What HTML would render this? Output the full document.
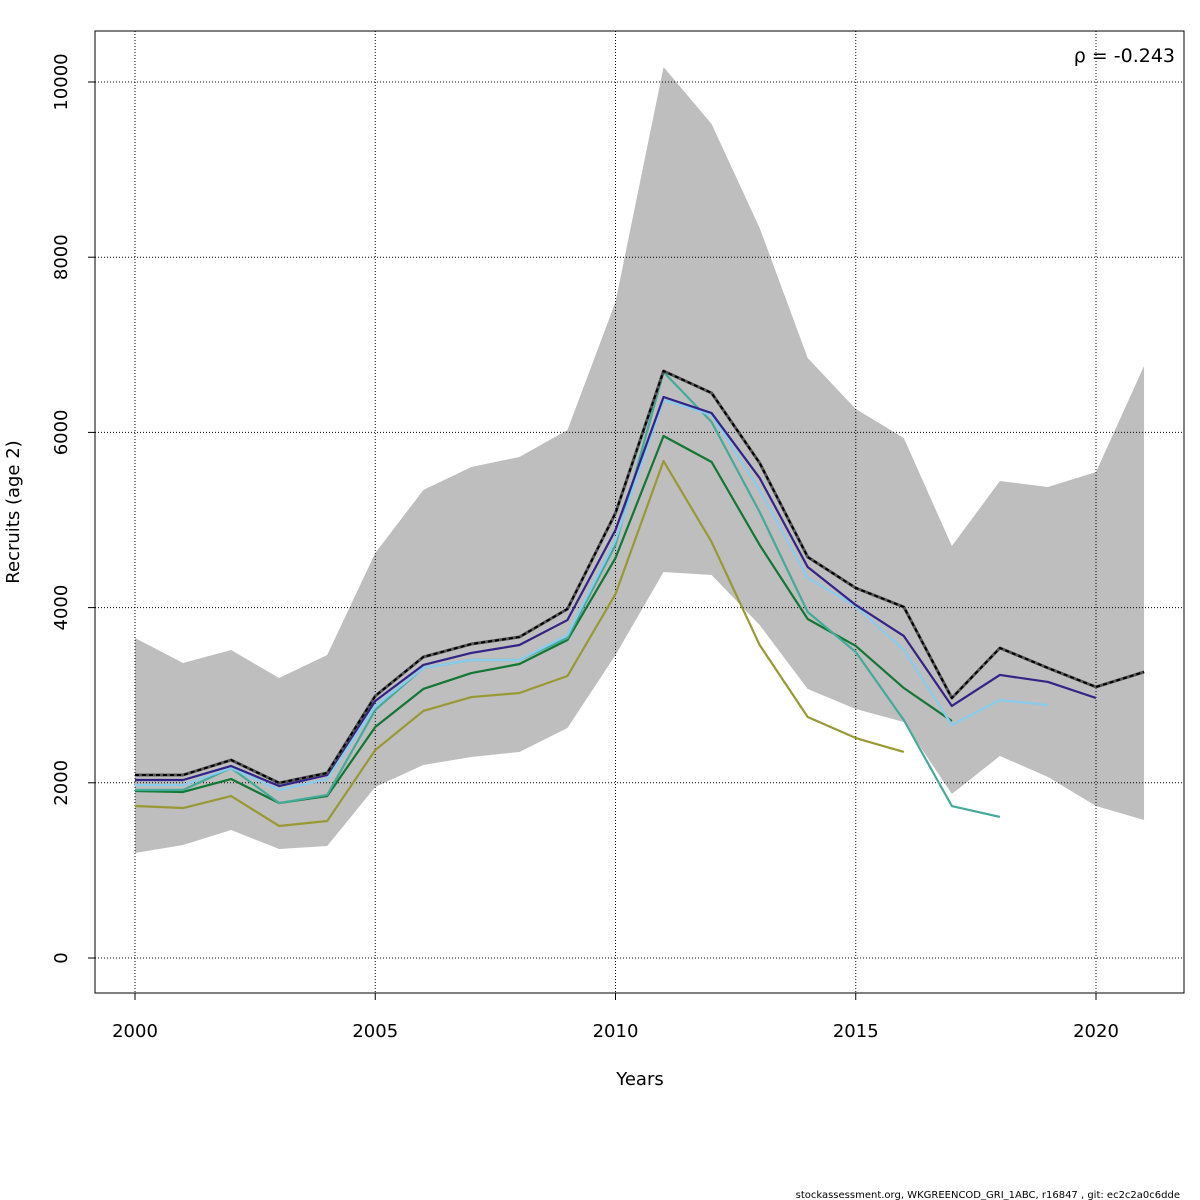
<!DOCTYPE html>
<html><head><meta charset="utf-8"><style>
body{margin:0;background:#fff;}
svg{display:block;font-family:"DejaVu Sans","Liberation Sans",sans-serif;}
</style></head><body>
<svg id="chart" width="1200" height="1200" viewBox="0 0 1200 1200">
<rect width="1200" height="1200" fill="#fff"/>
<g id="band"></g>
<g id="grid"></g>
<g id="series"></g>
<rect x="95" y="31" width="1089" height="962" fill="none" stroke="#000" stroke-width="1"/>
<g id="axes"></g>
<text x="640" y="1085" font-size="18" text-anchor="middle">Years</text>
<text transform="translate(19,512) rotate(-90)" font-size="18" text-anchor="middle">Recruits (age 2)</text>
<text x="1175" y="62" font-size="19" text-anchor="end">ρ = -0.243</text>
<text x="1180" y="1198" font-size="10" text-anchor="end">stockassessment.org, WKGREENCOD_GRI_1ABC, r16847 , git: ec2c2a0c6dde</text>
</svg>
<script>
const years=[2000,2001,2002,2003,2004,2005,2006,2007,2008,2009,2010,2011,2012,2013,2014,2015,2016,2017,2018,2019,2020,2021];
const upper=[3653,3368,3516,3196,3459,4623,5342,5605,5719,6027,7489,10171,9521,8333,6849,6267,5936,4703,5445,5377,5548,6758];
const lower=[1199,1290,1461,1244,1279,1952,2203,2295,2352,2626,3459,4406,4372,3801,3071,2842,2694,1872,2306,2066,1735,1575];
const mainRun=[2089,2089,2260,1998,2112,2991,3436,3584,3664,3984,5080,6701,6450,5651,4578,4224,4007,2968,3539,3311,3094,3265];
const peel1=[2032,2032,2192,1963,2089,2934,3345,3482,3573,3858,4886,6404,6221,5479,4463,4030,3676,2877,3231,3151,2968];
const peel2=[1975,1975,2169,1918,2043,2877,3311,3402,3402,3687,4772,6370,6199,5342,4338,4018,3516,2660,2945,2888];
const peel3=[1918,1918,2169,1769,1861,2831,3311,3402,3402,3653,4715,6689,6119,5091,3950,3493,2717,1735,1610];
const peel4=[1906,1895,2043,1769,1849,2637,3071,3253,3356,3630,4566,5959,5662,4715,3870,3562,3082,2705];
const peel5=[1735,1712,1849,1507,1564,2374,2820,2979,3025,3219,4155,5673,4749,3573,2751,2511,2352];
const xTicks=[2000,2005,2010,2015,2020];
const yTicks=[0,2000,4000,6000,8000,10000];
const NS="http://www.w3.org/2000/svg";
const X=v=>135+(v-2000)*48.05;
const Y=v=>958-v*0.0876;
function mk(tag,attrs,parent){const e=document.createElementNS(NS,tag);for(const k in attrs)e.setAttribute(k,attrs[k]);parent.appendChild(e);return e;}
const band=document.getElementById('band'),grid=document.getElementById('grid'),series=document.getElementById('series'),axes=document.getElementById('axes');
let pts=years.map((y,i)=>X(y)+','+Y(upper[i]));
for(let i=years.length-1;i>=0;i--)pts.push(X(years[i])+','+Y(lower[i]));
const poly=mk('polygon',{points:pts.join(' '),fill:'#bebebe',stroke:'none'},band);


xTicks.forEach(t=>{
 const l=mk('line',{x1:X(t),x2:X(t),y1:31,y2:993,stroke:'#000','stroke-width':1,'stroke-dasharray':'1,2'},grid);
 
 
 const tk=mk('line',{x1:X(t),x2:X(t),y1:993,y2:1000,stroke:'#000'},axes);
 
 
 const tx=mk('text',{x:X(t),y:1037,'font-size':18,'text-anchor':'middle'},axes);tx.textContent=t;
 
 
});
yTicks.forEach(t=>{
 const l=mk('line',{x1:95,x2:1184,y1:Y(t),y2:Y(t),stroke:'#000','stroke-width':1,'stroke-dasharray':'1,2'},grid);
 
 
 const tk=mk('line',{x1:88,x2:95,y1:Y(t),y2:Y(t),stroke:'#000'},axes);
 
 
 const tx=mk('text',{transform:`translate(67,${Y(t)}) rotate(-90)`,'font-size':18,'text-anchor':'middle'},axes);tx.textContent=t;
 
 
});
function line(vals,color,name,extra){
 const p=mk('polyline',Object.assign({points:vals.map((v,i)=>X(years[i])+','+Y(v)).join(' '),fill:'none',stroke:color,'stroke-width':2.2,'stroke-linejoin':'round'},extra||{}),series);
 
 
}
line(peel5,'#999933','peel-5-line');
line(peel4,'#117733','peel-4-line');
line(peel3,'#44AA99','peel-3-line');
line(peel2,'#88CCEE','peel-2-line');
line(peel1,'#332288','peel-1-line');
line(mainRun,'#555','main-run-line-base',{'stroke-width':3});
line(mainRun,'#000','main-run-line',{'stroke-dasharray':'4,3','stroke-width':2});
</script>
</body></html>
